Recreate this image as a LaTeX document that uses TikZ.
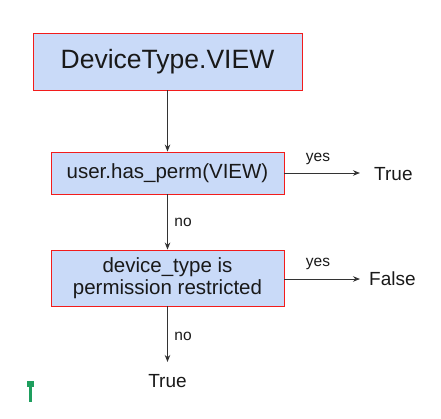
\documentclass[tikz,border=0pt]{standalone}
\usepackage{fontspec}
\setmainfont{Liberation Sans}
\usetikzlibrary{arrows.meta}
\definecolor{boxfill}{HTML}{C9DAF8}
\definecolor{boxline}{HTML}{F21C1C}
\definecolor{linegray}{HTML}{333333}
\definecolor{cursorgreen}{HTML}{1E9E5E}
\begin{document}
\begin{tikzpicture}[x=1pt,y=-1pt,
  box/.style={draw=boxline,fill=boxfill,line width=0.9pt,inner sep=0pt,align=center,text=black!90},
  conn/.style={draw=linegray,line width=1pt,-{Stealth[length=7pt,width=5.5pt]}},
  lbl/.style={inner sep=0pt,font=\fontsize{15.5}{18}\selectfont,text=black!90},
  res/.style={inner sep=0pt,font=\fontsize{19}{22}\selectfont,text=black!90}]
\useasboundingbox (0,0) rectangle (441,418);
\node[box,minimum width=269pt,minimum height=57pt,font=\fontsize{26.5}{30}\selectfont] (b1) at (167.5,61.5) {DeviceType.VIEW};
\node[box,minimum width=233pt,minimum height=42pt,font=\fontsize{20.5}{23}\selectfont] (b2) at (167.5,173) {user.has\_perm(VIEW)};
\node[box,minimum width=233pt,minimum height=56pt,font=\fontsize{20.5}{23}\selectfont] (b3) at (167.5,278) {device\_type is\\[-0.5pt]permission restricted};
\node[res,anchor=west] (t1) at (374,174) {True};
\node[res,anchor=west] (f1) at (369,279) {False};
\node[res] (t2) at (167.5,381) {True};
\coordinate (e1) at (360,173);
\coordinate (e2) at (360,279);
\coordinate (e3) at (167.5,362);
\draw[conn] (b1.south) -- (b2.north);
\draw[conn] (b2.east) -- (e1);
\draw[conn] (b2.south) -- (b3.north);
\draw[conn] (b3.east |- e2) -- (e2);
\draw[conn] (b3.south) -- (e3);
\node[lbl] (y1) at (318,159) {yes};
\node[lbl] (y2) at (318,264) {yes};
\node[lbl] (n1) at (183,222) {no};
\node[lbl] (n2) at (183,336) {no};
\fill[cursorgreen] (27,381) rectangle (34,387);
\fill[cursorgreen] (29.3,381) rectangle (31.5,402);
\end{tikzpicture}
\end{document}
